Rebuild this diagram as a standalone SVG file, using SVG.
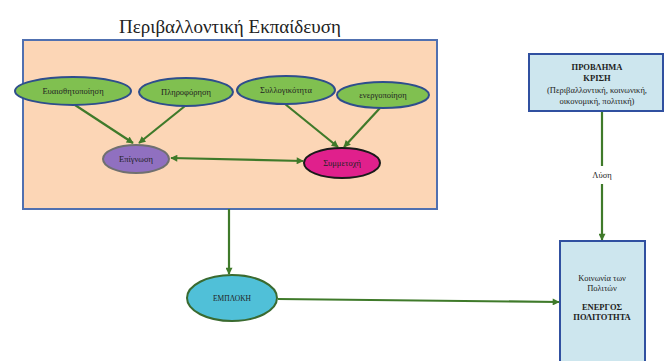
<svg xmlns="http://www.w3.org/2000/svg" width="664" height="361" viewBox="0 0 664 361">
<defs>
<marker id="ah" viewBox="0 0 10 10" refX="9" refY="5" markerWidth="8" markerHeight="7" orient="auto-start-reverse" markerUnits="userSpaceOnUse">
<path d="M0,0 L10,5 L0,10 z" fill="#3f7a2a"/>
</marker>
<style>
text{font-family:"Liberation Serif","DejaVu Serif",serif;fill:#222;text-anchor:middle}
.lbl{font-size:8.5px}
.g{fill:#80c050;stroke:#2e4e8c;stroke-width:2}
.c{stroke:#3f7a2a;stroke-width:2.2;fill:none}
.box{fill:#cde6ee;stroke:#3050a0;stroke-width:2}
</style>
</defs>
<rect width="664" height="361" fill="#ffffff"/>
<g id="title"><text x="230" y="33" style="font-size:19px">Περιβαλλοντική Εκπαίδευση</text></g>
<g id="frame"><rect x="23" y="40" width="414" height="169" fill="#fcd6b6" stroke="#5070b0" stroke-width="2"/></g>
<g id="connectors">
<line class="c" x1="75" y1="105" x2="133" y2="143" marker-end="url(#ah)"/>
<line class="c" x1="185" y1="106" x2="139" y2="143" marker-end="url(#ah)"/>
<line class="c" x1="285" y1="104" x2="338" y2="147" marker-end="url(#ah)"/>
<line class="c" x1="380" y1="108" x2="344" y2="147" marker-end="url(#ah)"/>
<line class="c" x1="171" y1="158" x2="303" y2="161" marker-start="url(#ah)" marker-end="url(#ah)"/>
<line class="c" x1="229" y1="209" x2="229" y2="274" marker-end="url(#ah)"/>
<line class="c" x1="278" y1="299" x2="559" y2="302" marker-end="url(#ah)"/>
<line class="c" x1="602" y1="111" x2="602" y2="166"/>
<line class="c" x1="602" y1="184" x2="602" y2="240" marker-end="url(#ah)"/>
</g>
<g id="n1"><ellipse class="g" cx="73" cy="91" rx="58" ry="14"/><text class="lbl" x="73" y="94">Ευαισθητοποίηση</text></g>
<g id="n2"><ellipse class="g" cx="186" cy="92" rx="47" ry="14"/><text class="lbl" x="186" y="95">Πληροφόρηση</text></g>
<g id="n3"><ellipse class="g" cx="286" cy="90" rx="49" ry="14"/><text class="lbl" x="286" y="93">Συλλογικότητα</text></g>
<g id="n4"><ellipse class="g" cx="383" cy="95" rx="46" ry="13"/><text class="lbl" x="383" y="98">ενεργοποίηση</text></g>
<g id="n5"><ellipse cx="136" cy="159" rx="33" ry="14" fill="#9070c0" stroke="#707070" stroke-width="2"/><text class="lbl" x="136" y="162">Επίγνωση</text></g>
<g id="n6"><ellipse cx="342" cy="163" rx="38" ry="15" fill="#e0208c" stroke="#1a1a1a" stroke-width="2"/><text class="lbl" x="342" y="166">Συμμετοχή</text></g>
<g id="n7"><ellipse cx="232" cy="298" rx="45" ry="23" fill="#50c0d8" stroke="#3a6a30" stroke-width="2"/><text class="lbl" x="232" y="301" style="font-size:7.5px">ΕΜΠΛΟΚΗ</text></g>
<g id="n8"><rect class="box" x="529" y="54" width="134" height="57"/>
<text class="lbl" x="597" y="70" style="font-weight:bold">ΠΡΟΒΛΗΜΑ</text>
<text class="lbl" x="597" y="81" style="font-weight:bold">ΚΡΙΣΗ</text>
<text class="lbl" x="597" y="93">(Περιβαλλοντική, κοινωνική,</text>
<text class="lbl" x="597" y="104">οικονομική, πολιτική)</text></g>
<g id="lysi"><text class="lbl" x="602" y="178">Λύση</text></g>
<g id="n9"><rect class="box" x="560" y="241" width="85" height="125"/>
<text class="lbl" x="602" y="281">Κοινωνία των</text>
<text class="lbl" x="602" y="291">Πολιτών</text>
<text class="lbl" x="602" y="310" style="font-weight:bold">ΕΝΕΡΓΟΣ</text>
<text class="lbl" x="602" y="320" style="font-weight:bold">ΠΟΛΙΤΟΤΗΤΑ</text></g>
</svg>
